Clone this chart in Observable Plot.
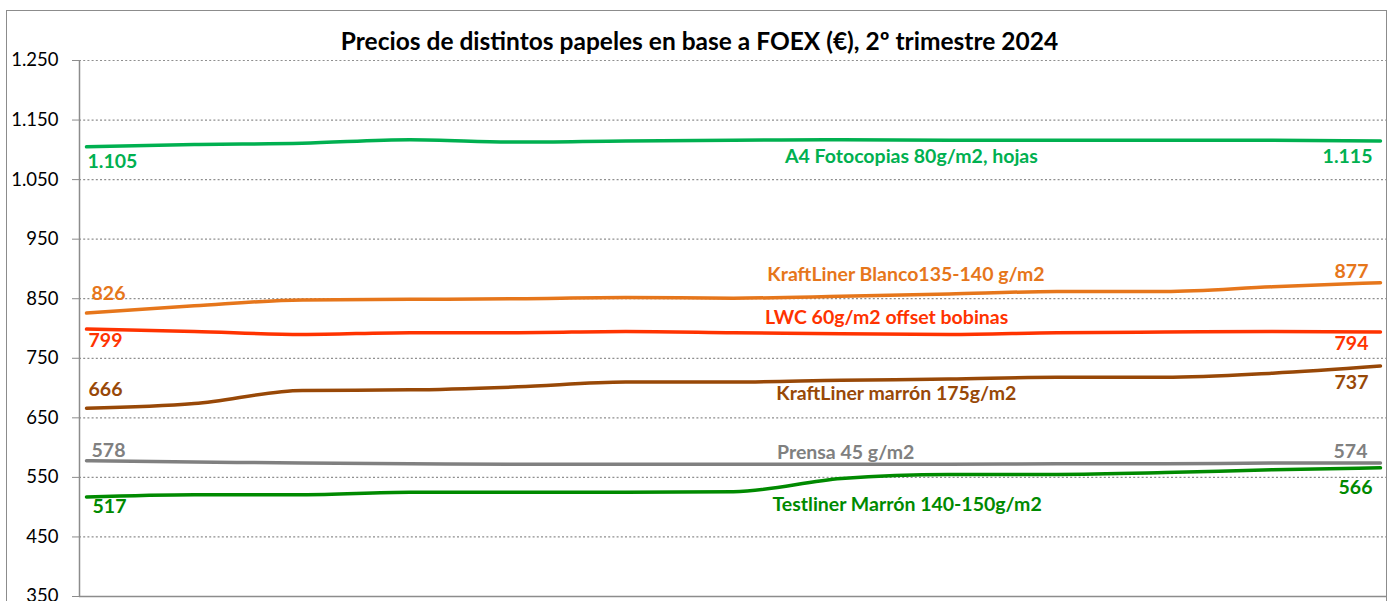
<!DOCTYPE html>
<html><head><meta charset="utf-8">
<script src="https://cdn.jsdelivr.net/npm/d3@7"></script>
<script src="https://cdn.jsdelivr.net/npm/@observablehq/plot@0.6"></script>
<style>
body{margin:0;background:#fff;font-family:Lato,"Noto Sans",sans-serif;}
#wrap{position:relative;width:1391px;height:601px;overflow:hidden;}
#chart{position:absolute;left:0;top:0;}
#border{position:absolute;left:6px;top:10px;width:1381px;height:640px;border:1.5px solid #8c8c8c;box-sizing:border-box;pointer-events:none;}
#title{position:absolute;left:8px;top:26px;width:1383px;text-align:center;font-weight:bold;font-size:24.5px;color:#000;line-height:30px;}
</style></head><body>
<div id="wrap"><div id="chart"></div><div id="border"></div><div id="title">Precios de distintos papeles en base a FOEX (€), 2º trimestre 2024</div></div>
<script>
// Weekly observations of the quarter (13 weeks)
const weeks = [0,1,2,3,4,5,6,7,8,9,10,11,12];
const seriesNames = ["A4 Fotocopias 80g/m2, hojas","KraftLiner Blanco135-140 g/m2","LWC 60g/m2 offset bobinas","KraftLiner marrón 175g/m2","Prensa 45 g/m2","Testliner Marrón 140-150g/m2"];
const a4Fotocopias   = [1105,1109,1111,1117,1113,1115,1116,1117,1116,1116,1116,1116,1115];
const kraftBlanco    = [826,838,848,849,850,852,851,854,858,862,862,870,877];
const lwcOffset      = [799,795,790,793,793,795,793,791,790,793,794,795,794];
const kraftMarron    = [666,674,696,697,702,710,710,713,715,718,718,725,737];
const prensa         = [578,576,574,573,572,572,572,572,572,573,573,574,574];
const testliner      = [517,521,521,525,525,525,526,548,555,555,558,563,566];
const yTicks = [350,450,550,650,750,850,950,1050,1150,1250];

const seriesValues = [a4Fotocopias,kraftBlanco,lwcOffset,kraftMarron,prensa,testliner];
const colors = ["#00b050","#e6761b","#ff3300","#984807","#808080","#008a00"];
// label placement styling: [startDx,startDy,endDx,endDy,nameX,nameDy]
const labelStyle = [
  [1,15,-8,16,7.65,17],
  [5,-19,-12,-11,7.60,-20],
  [2,12,-12,12,7.42,-16],
  [2,-19,-12,17,7.51,14],
  [5,-10,-13,-11,7.04,-12],
  [6,10,-8,20,7.61,29]
];

const fmt = d3.formatLocale({decimal:",",thousands:".",grouping:[3],currency:["","€"]}).format(",d");
const x0 = -0.065, x1 = 12.056;

const marks = [
  Plot.ruleY(yTicks.filter(d=>d>350), {stroke:"#8f8f8f", strokeDasharray:"2,2.2", strokeWidth:1.2}),
  Plot.axisY({ticks:yTicks, tickFormat:fmt, tickSize:7, tickPadding:14, fontSize:18.5, stroke:"#8c8c8c", fill:"#000", label:null}),
  Plot.ruleX([x0], {stroke:"#8c8c8c", strokeWidth:1.5}),
  Plot.ruleY([350], {stroke:"#8c8c8c", strokeWidth:1.5})
];

seriesValues.forEach((vals,k)=>{
  const data = weeks.map((w,i)=>({week:w, value:vals[i]}));
  const [sdx,sdy,edx,edy,nx,ndy] = labelStyle[k];
  const i0 = Math.floor(nx), t = nx - i0;
  const nameVal = vals[i0]*(1-t) + vals[i0+1]*t;
  marks.push(Plot.line(data, {x:"week", y:"value", stroke:colors[k], strokeWidth:3.5, curve:"monotone-x"}));
  const txt = {fill:colors[k], fontSize:19.5, fontWeight:"bold", fontFamily:"Lato, sans-serif"};
  marks.push(Plot.text([data[0]], {x:"week", y:"value", text:d=>fmt(d.value), textAnchor:"start", dx:sdx, dy:sdy, ...txt}));
  marks.push(Plot.text([data[data.length-1]], {x:"week", y:"value", text:d=>fmt(d.value), textAnchor:"end", dx:edx, dy:edy, ...txt}));
  marks.push(Plot.text([{week:nx, value:nameVal, name:seriesNames[k]}], {x:"week", y:"value", text:"name", textAnchor:"middle", dy:ndy, ...txt}));
});

const chart = Plot.plot({
  width:1391, height:601,
  marginLeft:79, marginRight:5, marginTop:60, marginBottom:5,
  style:{background:"transparent", fontFamily:"Lato, sans-serif"},
  x:{domain:[x0,x1], axis:null},
  y:{domain:[350,1250], axis:null},
  marks
});
document.getElementById("chart").appendChild(chart);
</script>
</body></html>
